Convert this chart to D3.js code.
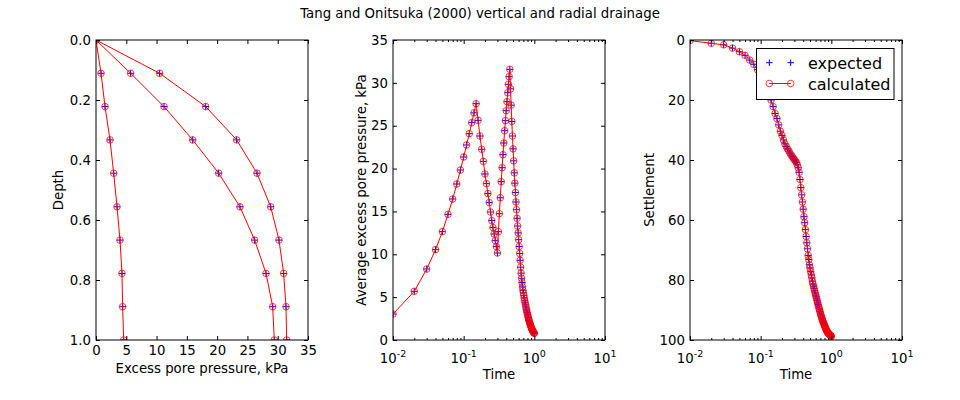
<!DOCTYPE html>
<html><head><meta charset="utf-8">
<script src="https://cdn.jsdelivr.net/npm/d3@7/dist/d3.min.js"></script>
<style>body{margin:0;background:#fff} text{font-family:"DejaVu Sans",sans-serif;fill:#000}</style>
</head><body><svg id="c" width="960" height="400"></svg>
<script>
// ---------- data ----------
const title = "Tang and Onitsuka (2000) vertical and radial drainage";
const depth = [0, 0.111, 0.222, 0.333, 0.444, 0.556, 0.667, 0.778, 0.889, 1.0];
const poreA = [0, 0.83, 1.49, 2.31, 2.92, 3.47, 3.96, 4.29, 4.40, 4.57];
const poreB = [0, 5.72, 11.23, 15.96, 20.25, 23.77, 26.19, 28.07, 29.17, 29.44];
const poreC = [0, 10.51, 18.11, 23.22, 26.58, 28.84, 30.21, 30.98, 31.37, 31.48];

const time = [0.01,0.02,0.03,0.04,0.05,0.06,0.07,0.08,0.09,0.10,
  0.11,0.12,0.13,0.14,0.15,0.16,0.17,0.18,0.19,0.20,
  0.21,0.22,0.23,0.24,0.25,0.26,0.27,0.28,0.29,0.30,
  0.31,0.32,0.33,0.34,0.35,0.36,0.37,0.38,0.39,0.40,
  0.41,0.42,0.43,0.44,0.45,0.46,0.47,0.48,0.49,0.50,
  0.51,0.52,0.53,0.54,0.55,0.56,0.57,0.58,0.59,0.60,
  0.61,0.62,0.63,0.64,0.65,0.66,0.67,0.68,0.69,0.70,
  0.71,0.72,0.73,0.74,0.75,0.76,0.77,0.78,0.79,0.80,
  0.81,0.82,0.83,0.84,0.85,0.86,0.87,0.88,0.89,0.90,
  0.91,0.92,0.93,0.94,0.95,0.96,0.97,0.98,0.99,1.00];

const avgPore = [3.03,5.68,8.28,10.54,12.64,14.66,16.45,18.2,19.83,21.35,
  22.75,24.07,25.36,26.5,27.57,25.63,23.8,22.25,20.84,19.37,
  18.24,17.08,16.03,14.93,13.93,13.11,12.37,11.59,10.89,10.15,
  12.64,14.74,16.6,18.47,20.1,21.62,22.98,24.42,25.59,26.75,
  27.8,28.85,29.83,30.72,31.58,29.3,27.4,25.5,23.8,22.3,
  20.9,19.5,18.3,17.2,16.1,15.2,14.2,13.3,12.5,11.7,
  10.9,10.1,9.3,8.5,7.8,7.2,6.7,6.2,5.8,5.5,
  5.2,4.9,4.6,4.35,4.1,3.85,3.6,3.4,3.2,3.0,
  2.8,2.6,2.45,2.3,2.15,2.0,1.88,1.76,1.64,1.52,
  1.42,1.32,1.22,1.14,1.06,0.99,0.93,0.87,0.82,0.78];

const settlement = [0.2,1.1,1.6,2.7,3.9,5.1,6.7,8.1,9.9,11.8,
  13.7,15.8,17.9,20.0,22.2,24.5,26.2,28.3,30.4,31.8,
  33.3,34.6,35.5,36.3,37.0,37.7,38.4,38.9,39.4,39.9,
  40.3,40.8,41.6,42.6,44.1,46.5,49.2,51.6,54.0,56.4,
  58.9,60.9,63.2,65.5,67.6,69.6,71.8,73.2,74.9,76.0,
  77.2,78.3,79.3,80.4,81.4,82.1,82.8,83.6,84.3,85.0,
  85.6,86.3,86.9,87.6,88.2,88.8,89.4,89.9,90.5,91.0,
  91.6,92.0,92.5,93.0,93.4,93.8,94.2,94.5,94.8,95.1,
  95.4,95.8,96.1,96.4,96.6,96.9,97.1,97.3,97.5,97.7,
  97.8,97.9,98.0,98.2,98.3,98.4,98.5,98.6,98.7,98.8];

const poreTicks = [0,5,10,15,20,25,30,35];
const depthTicks = [0,0.2,0.4,0.6,0.8,1.0];
const avgTicks = [0,5,10,15,20,25,30,35];
const settleTicks = [0,20,40,60,80,100];
const logMajor = [0.01,0.1,1,10];
const logMajorExp = ["-2","-1","0","1"];
const logMinor = [0.02,0.03,0.04,0.05,0.06,0.07,0.08,0.09,0.2,0.3,0.4,0.5,0.6,0.7,0.8,0.9,2,3,4,5,6,7,8,9];
const legendLabels = ["expected","calculated"];

// ---------- drawing ----------
const svg = d3.select("#c");
svg.append("rect").attr("width",960).attr("height",400).attr("fill","#fff");
svg.append("text").attr("x",480).attr("y",18).attr("text-anchor","middle")
  .attr("font-size",13.3).text(title);

const H0 = 40, H1 = 340;
const panels = [{x0:96,x1:308},{x0:393,x1:605},{x0:690,x1:902}];

function frameAxes(p, xScale, yScale, xTicks, yTicks, yFmt, xFmt, id){
  const g = svg.append("g");
  // bottom
  const gb = g.append("g").attr("transform",`translate(0,${H1})`)
    .call(d3.axisBottom(xScale).tickValues(xTicks).tickSize(-4).tickPadding(6).tickFormat(xFmt));
  const gt = g.append("g").attr("transform",`translate(0,${H0})`)
    .call(d3.axisTop(xScale).tickValues(xTicks).tickSize(-4).tickFormat(""));
  const gl = g.append("g").attr("transform",`translate(${p.x0},0)`)
    .call(d3.axisLeft(yScale).tickValues(yTicks).tickSize(-4).tickPadding(5).tickFormat(yFmt));
  const gr = g.append("g").attr("transform",`translate(${p.x1},0)`)
    .call(d3.axisRight(yScale).tickValues(yTicks).tickSize(-4).tickFormat(""));
  [gb,gt,gl,gr].forEach(a=>{a.select(".domain").remove();a.selectAll("text").attr("font-size",13.3).attr("font-family","DejaVu Sans");
    a.selectAll("line").attr("stroke","#000");});
  return g;
}

function clipFor(p,id){
  svg.append("clipPath").attr("id",id).append("rect")
    .attr("x",p.x0).attr("y",H0).attr("width",p.x1-p.x0).attr("height",H1-H0);
}

function drawSeries(g, xs, ys, xScale, yScale){
  const pts = xs.map((x,i)=>[xScale(x), yScale(ys[i])]);
  g.append("g").selectAll("path").data(pts).enter().append("path")
    .attr("d",d=>`M${d[0]-3.3},${d[1]}h6.6M${d[0]},${d[1]-3.3}v6.6`)
    .attr("stroke","#0000ff").attr("stroke-width",1).attr("fill","none");
  g.append("path").attr("d",d3.line()(pts)).attr("fill","none").attr("stroke","#ff0000").attr("stroke-width",1);
  g.append("g").selectAll("circle").data(pts).enter().append("circle")
    .attr("cx",d=>d[0]).attr("cy",d=>d[1]).attr("r",3.3)
    .attr("fill","none").attr("stroke","#ff0000").attr("stroke-opacity",0.75).attr("stroke-width",1);
}

function frameRect(p){
  svg.append("rect").attr("x",p.x0).attr("y",H0).attr("width",p.x1-p.x0).attr("height",H1-H0)
    .attr("fill","none").attr("stroke","#000").attr("stroke-width",1);
}

function logAxes(p, xScale){
  const g = svg.append("g");
  g.append("g").attr("transform",`translate(0,${H1})`)
    .call(d3.axisBottom(xScale).tickValues(logMinor).tickSize(-2).tickFormat(""));
  g.append("g").attr("transform",`translate(0,${H0})`)
    .call(d3.axisTop(xScale).tickValues(logMinor).tickSize(-2).tickFormat(""));
  g.selectAll(".domain").remove();
  g.selectAll("line").attr("stroke","#000");
  // major labels as 10^n
  logMajor.forEach((v,i)=>{
    const t = g.append("text").attr("x",xScale(v)).attr("y",363).attr("text-anchor","middle").attr("font-size",13.3);
    t.append("tspan").text("10");
    t.append("tspan").attr("dy",-6).attr("font-size",9.5).text(logMajorExp[i]);
  });
}

// ---- panel 1 ----
{
  const p = panels[0];
  const x = d3.scaleLinear().domain([0,35]).range([p.x0,p.x1]);
  const y = d3.scaleLinear().domain([0,1]).range([H0,H1]);
  clipFor(p,"c1");
  const g = svg.append("g").attr("clip-path","url(#c1)");
  [poreA,poreB,poreC].forEach(s=>drawSeries(g,s,depth,x,y));
  frameAxes(p,x,y,poreTicks,depthTicks,d3.format(".1f"),d3.format("d"));
  frameRect(p);
  svg.append("text").attr("x",202).attr("y",373).attr("text-anchor","middle").attr("font-size",13.3).text("Excess pore pressure, kPa");
  svg.append("text").attr("transform","translate(58,190) rotate(-90)").attr("dy","0.35em").attr("text-anchor","middle").attr("font-size",13.3).text("Depth");
}
// ---- panel 2 ----
{
  const p = panels[1];
  const x = d3.scaleLog().domain([0.01,10]).range([p.x0,p.x1]);
  const y = d3.scaleLinear().domain([0,35]).range([H1,H0]);
  clipFor(p,"c2");
  const g = svg.append("g").attr("clip-path","url(#c2)");
  drawSeries(g,time,avgPore,x,y);
  frameAxes(p,x,y,logMajor,avgTicks,d3.format("d"),()=>"");
  logAxes(p,x);
  frameRect(p);
  svg.append("text").attr("x",499).attr("y",379).attr("text-anchor","middle").attr("font-size",13.3).text("Time");
  svg.append("text").attr("transform","translate(361,190) rotate(-90)").attr("dy","0.35em").attr("text-anchor","middle").attr("font-size",13.3).text("Average excess pore pressure, kPa");
}
// ---- panel 3 ----
{
  const p = panels[2];
  const x = d3.scaleLog().domain([0.01,10]).range([p.x0,p.x1]);
  const y = d3.scaleLinear().domain([0,100]).range([H0,H1]);
  clipFor(p,"c3");
  const g = svg.append("g").attr("clip-path","url(#c3)");
  drawSeries(g,time,settlement,x,y);
  frameAxes(p,x,y,logMajor,settleTicks,d3.format("d"),()=>"");
  logAxes(p,x);
  frameRect(p);
  svg.append("text").attr("x",796).attr("y",379).attr("text-anchor","middle").attr("font-size",13.3).text("Time");
  svg.append("text").attr("transform","translate(649,190) rotate(-90)").attr("dy","0.35em").attr("text-anchor","middle").attr("font-size",13.3).text("Settlement");

  // legend
  const lg = svg.append("g");
  lg.append("rect").attr("x",756.5).attr("y",48.5).attr("width",137.5).attr("height",51)
    .attr("fill","#fff").attr("stroke","#000").attr("stroke-width",1);
  [769.3,790.7].forEach(cx=>{
    lg.append("path").attr("d",`M${cx-3.3},62.7h6.6M${cx},59.4v6.6`).attr("stroke","#0000ff").attr("fill","none");
  });
  lg.append("line").attr("x1",769.3).attr("x2",790.7).attr("y1",83.5).attr("y2",83.5).attr("stroke","#ff0000");
  [769.3,790.7].forEach(cx=>{
    lg.append("circle").attr("cx",cx).attr("cy",83.5).attr("r",3.3).attr("fill","none").attr("stroke","#ff0000").attr("stroke-opacity",0.75);
  });
  lg.append("text").attr("x",808).attr("y",68.5).attr("font-size",16).text(legendLabels[0]);
  lg.append("text").attr("x",808).attr("y",89.5).attr("font-size",16).text(legendLabels[1]);
}
</script></body></html>
